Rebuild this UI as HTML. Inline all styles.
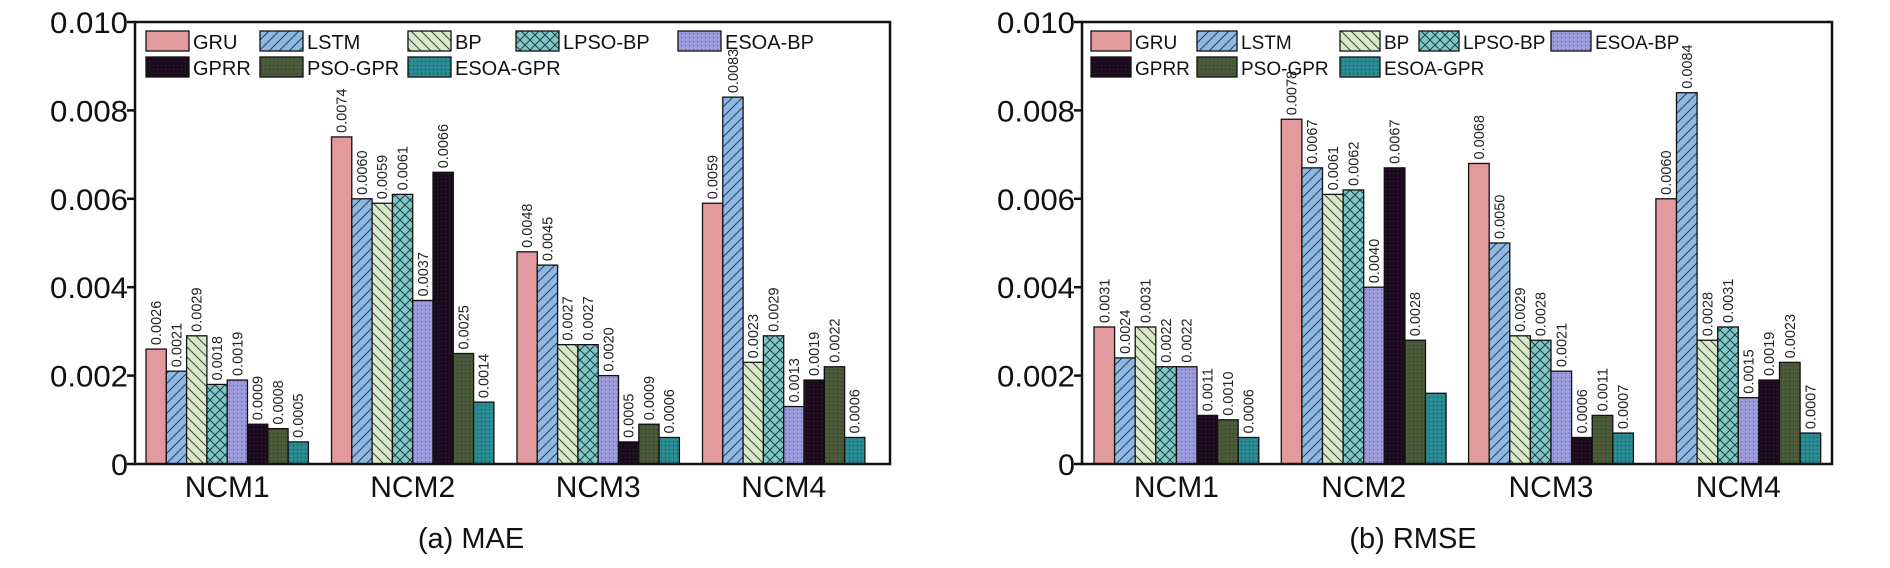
<!DOCTYPE html>
<html><head><meta charset="utf-8"><style>
body{margin:0;background:#fff}
svg{display:block;font-family:"Liberation Sans",Arial,sans-serif}
</style></head><body>
<svg id="c" width="1890" height="568" viewBox="0 0 1890 568">
<defs>
<pattern id="p-lstm" width="10" height="10" patternUnits="userSpaceOnUse"><rect width="10" height="10" fill="#8fb9e2"/><path d="M-2,12 L12,-2 M-2,2 L2,-2 M8,12 L12,8" stroke="#2a3f5a" stroke-width="1"/></pattern>
<pattern id="p-bp" width="10" height="10" patternUnits="userSpaceOnUse"><rect width="10" height="10" fill="#d8e8c8"/><path d="M-2,-2 L12,12 M-2,8 L2,12 M8,-2 L12,2" stroke="#3a4a3a" stroke-width="1"/></pattern>
<pattern id="p-lpso" width="10" height="10" patternUnits="userSpaceOnUse"><rect width="10" height="10" fill="#80c8c8"/><path d="M-2,12 L12,-2 M-2,-2 L12,12" stroke="#1f3f40" stroke-width="1"/></pattern>
<pattern id="p-esoabp" width="4" height="4" patternUnits="userSpaceOnUse"><rect width="4" height="4" fill="#9c9cdc"/><rect x="1" y="1" width="1" height="1" fill="#5a5a9a"/></pattern>
<pattern id="p-gprr" width="4" height="4" patternUnits="userSpaceOnUse"><rect width="4" height="4" fill="#1c0a1e"/><rect x="1" y="1" width="1" height="1" fill="#3a2a3e"/></pattern>
<pattern id="p-pso" width="4" height="4" patternUnits="userSpaceOnUse"><rect width="4" height="4" fill="#4c5a3c"/><rect x="1" y="1" width="1" height="1" fill="#2a3020"/></pattern>
<pattern id="p-esoagpr" width="4" height="4" patternUnits="userSpaceOnUse"><rect width="4" height="4" fill="#2b8b92"/><rect x="1" y="1" width="1" height="1" fill="#12484c"/></pattern>
</defs>
</svg>
<script>
const categories=["NCM1","NCM2","NCM3","NCM4"];
const seriesNames=["GRU","LSTM","BP","LPSO-BP","ESOA-BP","GPRR","PSO-GPR","ESOA-GPR"];
const maeGRU=[0.0026,0.0074,0.0048,0.0059];
const maeLSTM=[0.0021,0.0060,0.0045,0.0083];
const maeBP=[0.0029,0.0059,0.0027,0.0023];
const maeLPSO=[0.0018,0.0061,0.0027,0.0029];
const maeESOABP=[0.0019,0.0037,0.0020,0.0013];
const maeGPRR=[0.0009,0.0066,0.0005,0.0019];
const maePSO=[0.0008,0.0025,0.0009,0.0022];
const maeESOAGPR=[0.0005,0.0014,0.0006,0.0006];
const rmseGRU=[0.0031,0.0078,0.0068,0.0060];
const rmseLSTM=[0.0024,0.0067,0.0050,0.0084];
const rmseBP=[0.0031,0.0061,0.0029,0.0028];
const rmseLPSO=[0.0022,0.0062,0.0028,0.0031];
const rmseESOABP=[0.0022,0.0040,0.0021,0.0015];
const rmseGPRR=[0.0011,0.0067,0.0006,0.0019];
const rmsePSO=[0.0010,0.0028,0.0011,0.0023];
const rmseESOAGPR=[0.0006,0.0016,0.0007,0.0007];
const yTicks=[0,0.002,0.004,0.006,0.008,0.010];
const yTickLabels=["0","0.002","0.004","0.006","0.008","0.010"];
const rmseHiddenLabel=[[1,7]];

const fills=["#e29a9d","url(#p-lstm)","url(#p-bp)","url(#p-lpso)","url(#p-esoabp)","url(#p-gprr)","url(#p-pso)","url(#p-esoagpr)"];
const NS="http://www.w3.org/2000/svg";
const svg=document.getElementById('c');
function mk(tag,attrs,parent){const e=document.createElementNS(NS,tag);for(const k in attrs)e.setAttribute(k,attrs[k]);(parent||svg).appendChild(e);return e;}

function drawPanel(cfg){
  const g=mk('g',{});
  
  
  const x0=cfg.x0,x1=cfg.x1,yT=22,yB=464;
  const yScale=v=>yB-(v/0.010)*(yB-yT);
  const xBar=(ci,si)=>x0+cfg.pad+ci*cfg.gstep+si*cfg.bw;
  // legend
  seriesNames.forEach((n,si)=>{
    const row=si<5?0:1;
    const lx=cfg.legX[si];
    const ly=row===0?31:57;
    const lg=mk('g',{},g);
    
    
    mk('rect',{x:lx,y:ly,width:cfg.sw,height:20,fill:fills[si],stroke:'#111','stroke-width':1.3},lg);
    const t=mk('text',{x:lx+cfg.sw+4,y:ly+18,'font-size':cfg.lfs,fill:'#111'},lg);
    t.textContent=n;
  });
  // bars
  cfg.series.forEach((arr,si)=>{
    arr.forEach((v,ci)=>{
      const x=xBar(ci,si),y=yScale(v);
      const r=mk('rect',{x:x,y:y,width:cfg.bw,height:yB-y,fill:fills[si],stroke:'#111','stroke-width':1.3},g);
      
      
      const hidden=(cfg.hidden||[]).some(h=>h[0]===ci&&h[1]===si);
      if(!hidden){
        const tx=x+cfg.bw/2+5,ty=y-4;
        const t=mk('text',{x:tx,y:ty,transform:`rotate(-90 ${tx} ${ty})`,'font-size':14.5,fill:'#222'},g);
        t.textContent=v.toFixed(4);
        
        
      }
    });
  });
  // frame
  const f=mk('rect',{x:x0,y:yT,width:x1-x0,height:yB-yT,fill:'none',stroke:'#111','stroke-width':2.5},g);
  
  
  // y ticks
  yTicks.forEach((v,i)=>{
    const y=yScale(v);
    const l=mk('line',{x1:x0-8,x2:x0,y1:y,y2:y,stroke:'#111','stroke-width':2.5},g);
    
    
    const t=mk('text',{x:x0-7,y:y+11,'text-anchor':'end','font-size':30,fill:'#111',textLength:(yTickLabels[i].length>1?78:17),lengthAdjust:'spacingAndGlyphs'},g);
    t.textContent=yTickLabels[i];
    
    
  });
  // x labels
  categories.forEach((c,ci)=>{
    const cx=xBar(ci,0)+cfg.bw*4;
    const t=mk('text',{x:cx,y:497,'text-anchor':'middle','font-size':30,fill:'#111'},g);
    t.textContent=c;
    
    
  });
  // caption
  const cap=mk('text',{x:cfg.capX,y:548,'text-anchor':'middle','font-size':29,fill:'#111'},g);
  cap.textContent=cfg.caption;
  
  
}
drawPanel({name:'mae-panel',x0:135,x1:890,pad:11,gstep:185.5,bw:20.3,
  series:[maeGRU,maeLSTM,maeBP,maeLPSO,maeESOABP,maeGPRR,maePSO,maeESOAGPR],
  caption:'(a) MAE',capX:471,legX:[146,260,408,516,678,146,260,408],sw:43,lfs:20});
drawPanel({name:'rmse-panel',x0:1082,x1:1832,pad:12,gstep:187.3,bw:20.6,
  series:[rmseGRU,rmseLSTM,rmseBP,rmseLPSO,rmseESOABP,rmseGPRR,rmsePSO,rmseESOAGPR],
  hidden:rmseHiddenLabel,
  caption:'(b) RMSE',capX:1413,legX:[1091,1197,1340,1419,1551,1091,1197,1340],sw:40,lfs:19});
</script>
</body></html>
